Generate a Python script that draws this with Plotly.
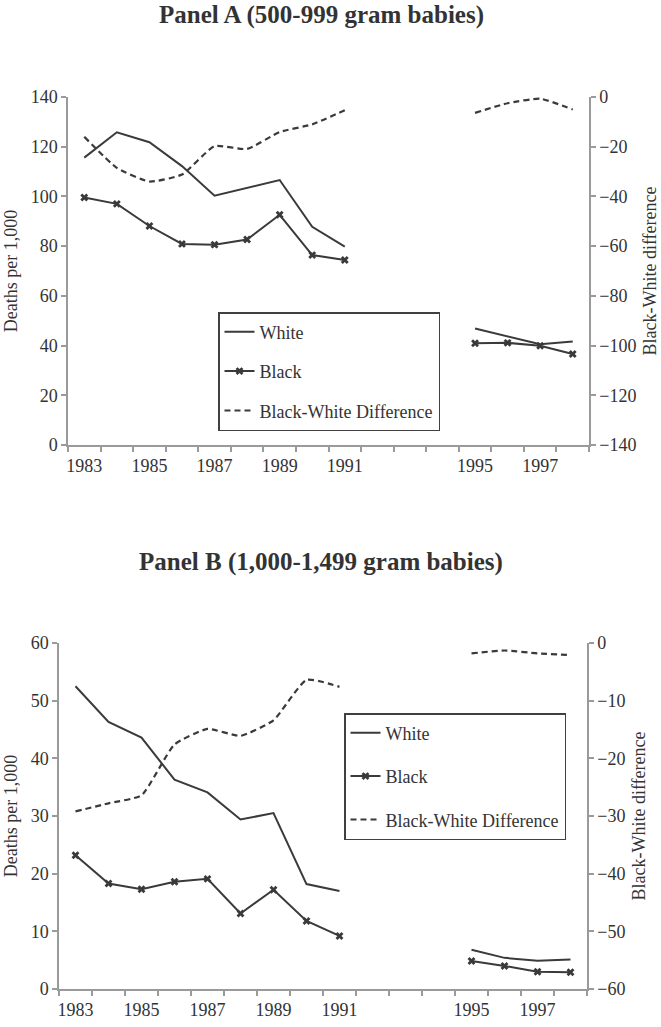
import plotly.graph_objects as go

years = list(range(1983, 1999))

# Panel A (500-999 gram babies); None = no data (1992-1994)
a_white = [115.6, 125.8, 121.8, 112.2, 100.3, 103.5, 106.6, 87.8, 79.8, None, None, None, 46.9, 43.6, 40.5, 41.6]
a_black = [99.6, 97.0, 88.1, 80.9, 80.6, 82.7, 92.6, 76.4, 74.4, None, None, None, 40.9, 41.1, 39.9, 36.6]
a_diff = [-16.0, -28.5, -34.0, -31.2, -19.8, -20.9, -14.1, -11.0, -5.3, None, None, None, -6.4, -2.5, -0.7, -5.0]

# Panel B (1,000-1,499 gram babies)
b_white = [52.5, 46.3, 43.6, 36.3, 34.1, 29.4, 30.5, 18.2, 17.0, None, None, None, 6.8, 5.4, 4.9, 5.1]
b_black = [23.2, 18.3, 17.3, 18.6, 19.1, 13.1, 17.2, 11.8, 9.2, None, None, None, 4.85, 4.0, 3.0, 2.9]
b_diff = [-29.2, -27.8, -26.4, -17.6, -14.9, -16.1, -13.4, -6.4, -7.6, None, None, None, -1.8, -1.3, -1.8, -2.1]

tick_years = [1983, 1985, 1987, 1989, 1991, 1995, 1997]
boundaries = [y - 0.5 for y in years] + [years[-1] + 0.5]

FONT = "Liberation Serif"
LINE = "#3a3a3a"
AXIS = "#9a9a9a"
TXT = "#333333"

W, H = 661, 1027

fig = go.Figure()

def add_panel(white, black, diff, xa, ya, ya2, legend):
    fig.add_trace(go.Scatter(x=years, y=white, name="White", mode="lines",
                             line=dict(color=LINE, width=2), xaxis=xa, yaxis=ya,
                             legend=legend, legendgroup=legend + "w"))
    fig.add_trace(go.Scatter(x=years, y=black, name="Black", mode="lines+markers",
                             line=dict(color=LINE, width=2),
                             marker=dict(symbol="x", size=7, color=LINE),
                             xaxis=xa, yaxis=ya, legend=legend, legendgroup=legend + "b"))
    fig.add_trace(go.Scatter(x=years, y=diff, name="Black-White Difference", mode="lines",
                             line=dict(color=LINE, width=2.2, dash="6px,4px", shape="spline", smoothing=0.5),
                             xaxis=xa, yaxis=ya2, legend=legend, legendgroup=legend + "d"))

add_panel(a_white, a_black, a_diff, "x", "y", "y2", "legend")
add_panel(b_white, b_black, b_diff, "x2", "y3", "y4", "legend2")

def px_x(p):
    return p / W

def px_y(p):
    return 1 - p / H

FS = 18

xcommon = dict(range=[1982.5, 1998.5], showline=True, linecolor=AXIS, linewidth=1.5,
               tickvals=tick_years, ticktext=[str(y) for y in tick_years], ticks="",
               ticklabelstandoff=4,
               minor=dict(tickvals=boundaries, ticks="outside", ticklen=5, tickcolor=AXIS, tickwidth=1.5),
               showgrid=False, zeroline=False, automargin=False,
               tickfont=dict(family=FONT, size=FS, color=TXT))

ycommon = dict(showline=True, linecolor=AXIS, linewidth=1.5, ticks="outside", ticklen=5,
               tickcolor=AXIS, tickwidth=1.5, showgrid=False, zeroline=False, automargin=False,
               tickfont=dict(family=FONT, size=FS, color=TXT))

tfont = dict(family=FONT, size=FS, color=TXT)

fig.update_layout(
    width=W, height=H,
    margin=dict(l=0, r=0, t=0, b=0, autoexpand=False),
    paper_bgcolor="white", plot_bgcolor="white",
    font=dict(family=FONT, color=TXT),
    xaxis=dict(domain=[px_x(68), px_x(589)], anchor="y", **xcommon),
    yaxis=dict(domain=[px_y(445), px_y(97)], anchor="x", range=[0, 140], dtick=20,
               title=dict(text="Deaths per 1,000", font=tfont, standoff=8), **ycommon),
    yaxis2=dict(overlaying="y", side="right", anchor="x", range=[-140, 0], dtick=20,
                title=dict(text="Black-White difference", font=tfont, standoff=8), **ycommon),
    xaxis2=dict(domain=[px_x(59), px_x(587)], anchor="y3", **xcommon),
    yaxis3=dict(domain=[px_y(989), px_y(643)], anchor="x2", range=[0, 60], dtick=10,
                title=dict(text="Deaths per 1,000", font=tfont, standoff=8), **ycommon),
    yaxis4=dict(overlaying="y3", side="right", anchor="x2", range=[-60, 0], dtick=10,
                title=dict(text="Black-White difference", font=tfont, standoff=8), **ycommon),
    legend=dict(x=px_x(218), y=px_y(312), xanchor="left", yanchor="top",
                bordercolor="#404040", borderwidth=1.5, bgcolor="white",
                font=dict(family=FONT, size=FS, color=TXT), tracegroupgap=13,
                itemwidth=30),
    legend2=dict(x=px_x(344), y=px_y(713), xanchor="left", yanchor="top",
                 bordercolor="#404040", borderwidth=1.5, bgcolor="white",
                 font=dict(family=FONT, size=FS, color=TXT), tracegroupgap=17,
                 itemwidth=30),
    annotations=[
        dict(text="<b>Panel A (500-999 gram babies)</b>", x=px_x(321), y=px_y(15),
             xref="paper", yref="paper", showarrow=False, xanchor="center", yanchor="middle",
             font=dict(family=FONT, size=25, color=TXT)),
        dict(text="<b>Panel B (1,000-1,499 gram babies)</b>", x=px_x(321), y=px_y(562),
             xref="paper", yref="paper", showarrow=False, xanchor="center", yanchor="middle",
             font=dict(family=FONT, size=25, color=TXT)),
    ],
)

fig.write_html("out.html")
